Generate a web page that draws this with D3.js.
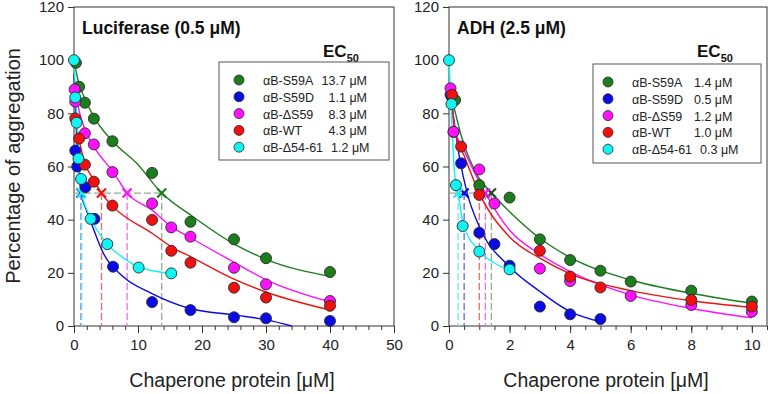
<!DOCTYPE html>
<html>
<head>
<meta charset="utf-8">
<script src="https://cdn.jsdelivr.net/npm/d3@7"></script>
<style>
  body { margin: 0; background: #fff; }
  svg { font-family: "Liberation Sans", Arial, sans-serif; }
  .axis path, .axis line { stroke: #333; }
  .axis text { font-size: 15px; fill: #222; }
</style>
</head>
<body>
<svg width="768" height="394"></svg>
<script>
var seriesNames = ["\u03b1B-S59A", "\u03b1B-S59D", "\u03b1B-\u0394S59", "\u03b1B-WT", "\u03b1B-\u039454-61"];
var colors = ["#1c7d1c", "#0a0ae6", "#ff10ff", "#f01010", "#10f4f4"];
var dashColors = ["#8fae8f", "#5b6ad8", "#ee70ee", "#ee6a6a", "#6fe6e6"];

// Luciferase panel
var lucEC50 = [13.7, 1.1, 8.3, 4.3, 1.2];
var lucS59A = [[0.3,99],[0.8,90],[1.7,84],[3.1,78],[6,69.5],[12.2,57.6],[18.2,39.2],[25,32.6],[30,25.5],[40,20.3]];
var lucS59D = [[0.2,66],[0.5,60],[1.8,52.2],[3.2,40.3],[6.1,22.3],[12.2,9],[18.2,6],[25,3.3],[30,2.9],[40,1.9]];
var lucDS59 = [[0.1,89],[0.2,84.4],[1.7,72.5],[3.1,68.3],[6,57.9],[12.2,46.1],[15.2,37.1],[18.2,33.6],[25,21.9],[30,15.7],[40,9.4]];
var lucWT = [[0.2,78.1],[0.8,70.5],[1.7,60.7],[3.1,54.3],[6,45.3],[12.2,39.9],[15.2,28.3],[18.2,23.8],[25,14.4],[30,10.7],[40,7.6]];
var lucD5461 = [[0,100],[0.2,86],[0.4,76.5],[0.7,63],[1.1,55.3],[2.6,40.3],[5.2,30.8],[10.1,22],[15.2,19.8]];

var lucS59AFit = [[0,99.5],[0.8,91],[1.7,85.5],[3.1,78.7],[6.1,69.3],[9.8,61.2],[13.7,50],[18.6,41.1],[24.9,31],[30.1,25],[40,18.6]];
var lucS59DFit = [[0,95],[0.4,72],[0.8,58],[1.1,50],[1.8,44.5],[2.5,40],[4.6,27.3],[7.7,18.5],[12.1,12.3],[18.1,6.6],[25.2,4.1],[30.1,2.3],[34,0]];
var lucDS59Fit = [[0,91],[0.5,84],[1.7,74],[3.1,67.5],[6.1,58],[8.3,50],[12.2,43.6],[15.2,37.4],[18.2,33.2],[24.4,24.8],[30.1,17.3],[40,9.1]];
var lucWTFit = [[0,80],[0.8,70],[1.7,61.2],[3.1,55],[4.3,50],[6.1,44.9],[12.2,34.9],[15.2,29.8],[18.2,26.1],[24.4,18.3],[30.1,12.7],[40,6]];
var lucD5461Fit = [[0,100],[0.3,84],[0.7,67],[1.2,50],[1.8,45],[2.5,41],[5.1,31.1],[7.5,26],[10,22.3],[15,19.8]];

// ADH panel
var adhEC50 = [1.4, 0.5, 1.2, 1.0, 0.3];
var adhS59A = [[0.1,86],[0.2,85],[1,53],[2,48.3],[3,32.6],[4,24.8],[5,20.8],[6,16.7],[8,13.3],[10,9.2]];
var adhS59D = [[0.05,87],[0.15,73],[0.4,61.2],[1,35.1],[1.5,30.8],[2,22.7],[3,7.3],[4,4.4],[5,2.6]];
var adhDS59 = [[0.05,89.4],[0.15,73.1],[1,58.9],[1.5,46.1],[3,21.6],[4,16.9],[6,11.3],[8,7.9],[10,5.4]];
var adhWT = [[0.1,87],[0.4,67.5],[1,49.3],[3,28.3],[4,18.6],[5,14.5],[8,9.8],[10,7.3]];
var adhD5461 = [[0,100],[0.08,83.5],[0.23,53],[0.45,37.6],[1,28],[2,21.3]];

var adhS59AFit = [[0.05,88],[0.42,71],[0.97,56],[1.4,50],[2,43],[3,33],[4,25.8],[6,17.3],[8,12.3],[10,8.5]];
var adhS59DFit = [[0.02,90],[0.36,62.5],[0.6,50],[1,37.4],[2,22.3],[3,13],[4,5.4],[5,1.6]];
var adhDS59Fit = [[0.05,89],[0.2,74],[0.5,66],[1.2,50],[2,36],[3,27],[4,20.5],[6,11.7],[8,6.6],[10,3.1]];
var adhWTFit = [[0.05,88],[0.2,73],[0.5,64],[1,50],[2,33.5],[3,25.5],[4,19.6],[6,13.3],[8,9.5],[10,7]];
var adhD5461Fit = [[0,100],[0.08,80],[0.18,58],[0.3,50],[0.47,38.6],[0.97,28.6],[1.52,23.6],[1.96,21.1]];

var yTicks = [0, 20, 40, 60, 80, 100, 120];

var svg = d3.select("svg");

var panels = [
	{ title: "Luciferase (0.5 \u03bcM)", ec50: lucEC50,
	  points: [lucS59A, lucS59D, lucDS59, lucWT, lucD5461],
	  fits: [lucS59AFit, lucS59DFit, lucDS59Fit, lucWTFit, lucD5461Fit],
	  left: 74, right: 394, xmax: 50, major: 10, minor: 2,
	  box: [219, 62, 170, 98], valueX: 367, valueAnchor: "end", markX: 239, ecX: 323 },
	{ title: "ADH (2.5 \u03bcM)", ec50: adhEC50,
	  points: [adhS59A, adhS59D, adhDS59, adhWT, adhD5461],
	  fits: [adhS59AFit, adhS59DFit, adhDS59Fit, adhWTFit, adhD5461Fit],
	  left: 449, right: 767, xmax: 10.5, major: 2, minor: 0.5,
	  box: [593, 64, 168, 99], valueX: 694, valueAnchor: "start", markX: 608, ecX: 697 }
];

var plotTop = 7, plotBottom = 326;

var yScale = d3.scaleLinear().domain([0, 120]).range([plotBottom, plotTop]);

panels.forEach(function(p) {
	var xScale = d3.scaleLinear().domain([0, p.xmax]).range([p.left, p.right]);
	var g = svg.append("g");

	// frame
	g.append("rect")
		.attr("x", p.left).attr("y", plotTop)
		.attr("width", p.right - p.left).attr("height", plotBottom - plotTop)
		.attr("fill", "none").attr("stroke", "#333").attr("stroke-width", 1);

	var majors = d3.range(0, Math.floor(p.xmax / p.major) * p.major + 1e-9, p.major);
	var minors = d3.range(0, p.xmax + 1e-9, p.minor);

	g.append("g").attr("class", "axis")
		.attr("transform", "translate(0," + plotBottom + ")")
		.call(d3.axisBottom(xScale).tickValues(minors).tickSize(4).tickFormat(""))
		.call(function(s) { s.select(".domain").remove(); });
	g.append("g").attr("class", "axis")
		.attr("transform", "translate(0," + plotBottom + ")")
		.call(d3.axisBottom(xScale).tickValues(majors).tickSize(7).tickPadding(6).tickFormat(d3.format("d")))
		.call(function(s) { s.select(".domain").remove(); });

	g.append("g").attr("class", "axis")
		.attr("transform", "translate(" + p.left + ",0)")
		.call(d3.axisLeft(yScale).tickValues(yTicks).tickSize(6).tickPadding(4))
		.call(function(s) { s.select(".domain").remove(); });

	// EC50 guides
	var ecMax = d3.max(p.ec50);
	g.append("line")
		.attr("x1", xScale(0)).attr("x2", xScale(ecMax))
		.attr("y1", yScale(50)).attr("y2", yScale(50))
		.attr("stroke", "#9aa89a").attr("stroke-width", 1.2)
		.attr("stroke-dasharray", "7,3");
	p.ec50.forEach(function(v, i) {
		g.append("line")
			.attr("x1", xScale(v)).attr("x2", xScale(v))
			.attr("y1", yScale(50)).attr("y2", yScale(0))
			.attr("stroke", dashColors[i]).attr("stroke-width", 1.3)
			.attr("stroke-dasharray", "7,3");
	});

	// fitted curves
	var line = d3.line()
		.x(function(d) { return xScale(d[0]); })
		.y(function(d) { return yScale(d[1]); })
		.curve(d3.curveMonotoneX);
	p.fits.forEach(function(f, i) {
		g.append("path")
			.datum(f)
			.attr("fill", "none")
			.attr("stroke", colors[i])
			.attr("stroke-width", 1.4)
			.attr("d", line);
	});

	// EC50 crosses
	p.ec50.forEach(function(v, i) {
		var cx = xScale(v), cy = yScale(50), s = 4.5;
		var c = g.append("g").attr("stroke", i == 0 && p.xmax < 20 ? "#1f4a1f" : colors[i]).attr("stroke-width", 2.2);
		c.append("line").attr("x1", cx - s).attr("y1", cy - s).attr("x2", cx + s).attr("y2", cy + s);
		c.append("line").attr("x1", cx - s).attr("y1", cy + s).attr("x2", cx + s).attr("y2", cy - s);
	});

	// data points
	p.points.forEach(function(pts, i) {
		g.append("g").selectAll("circle")
			.data(pts)
			.enter().append("circle")
			.attr("cx", function(d) { return xScale(d[0]); })
			.attr("cy", function(d) { return yScale(d[1]); })
			.attr("r", 5.5)
			.attr("fill", colors[i])
			.attr("stroke", "#2a2a2a")
			.attr("stroke-width", 0.9);
	});

	// title
	g.append("text")
		.attr("x", p.left + 8).attr("y", 34)
		.attr("font-size", "17.5px").attr("font-weight", "bold").attr("fill", "#111")
		.text(p.title);

	// EC50 label
	var ec = g.append("text")
		.attr("x", p.ecX).attr("y", 57)
		.attr("font-size", "17px").attr("font-weight", "bold").attr("fill", "#111");
	ec.append("tspan").text("EC");
	ec.append("tspan").attr("dy", 5).attr("font-size", "11px").text("50");

	// legend
	g.append("rect")
		.attr("x", p.box[0]).attr("y", p.box[1])
		.attr("width", p.box[2]).attr("height", p.box[3])
		.attr("fill", "#fff").attr("stroke", "#555").attr("stroke-width", 1);
	seriesNames.forEach(function(name, i) {
		var ly = p.box[1] + 18 + i * 16.8;
		g.append("circle")
			.attr("cx", p.markX).attr("cy", ly).attr("r", 5)
			.attr("fill", colors[i]).attr("stroke", "#2a2a2a").attr("stroke-width", 0.8);
		var nm = g.append("text")
			.attr("x", p.markX + 24).attr("y", ly + 5)
			.attr("font-size", "12.5px").attr("fill", "#222")
			.text(name);
		var val = g.append("text")
			.attr("y", ly + 5)
			.attr("font-size", "12.5px").attr("fill", "#222")
			.text(d3.format(".1f")(p.ec50[i]) + " \u03bcM");
		var nameEnd = p.markX + 24 + nm.node().getComputedTextLength();
		var w = val.node().getComputedTextLength();
		var start = p.valueAnchor == "end" ? p.valueX - w : p.valueX;
		val.attr("x", Math.max(start, nameEnd + 8));
	});

	// x axis title
	svg.append("text")
		.attr("x", (p.left + p.right) / 2 - 2).attr("y", 387)
		.attr("text-anchor", "middle")
		.attr("font-size", "19.5px").attr("fill", "#222")
		.text("Chaperone protein [\u03bcM]");
});

svg.append("text")
	.attr("transform", "translate(20," + 166 + ") rotate(-90)")
	.attr("text-anchor", "middle")
	.attr("font-size", "20px").attr("fill", "#222")
	.text("Percentage of aggregation");
</script>
</body>
</html>
